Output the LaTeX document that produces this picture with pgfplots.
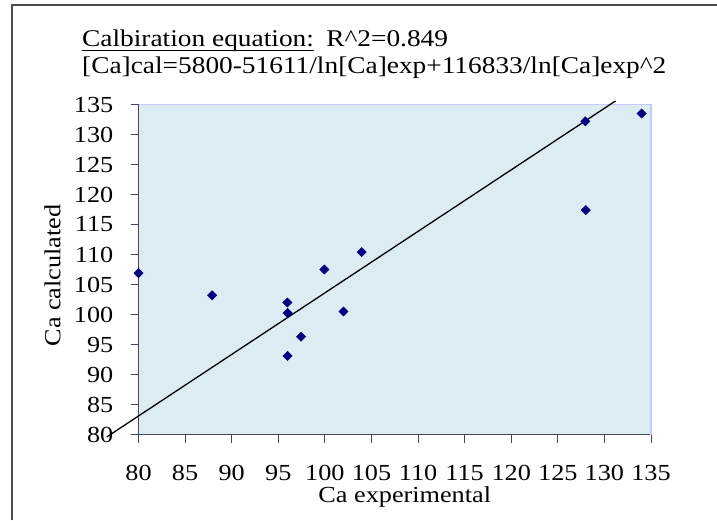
\documentclass[border=0pt]{standalone}
\usepackage{pgfplots}
\pgfplotsset{compat=1.18}
\usepackage{fontspec}
\setmainfont[FakeStretch=1.14]{Liberation Serif}
\definecolor{bgblue}{RGB}{219,237,243}
\definecolor{peri}{RGB}{200,200,255}
\definecolor{navymark}{RGB}{0,0,128}
\definecolor{axgray}{RGB}{70,70,90}
\begin{document}
\begin{tikzpicture}[x=1pt,y=1pt]
\path[use as bounding box] (0,0) rectangle (717,520);
\draw[black!70, line width=1.3pt] (12,0) -- (12,515) -- (717,515);
\node[anchor=base west, inner sep=0pt, font=\fontsize{24}{28}\selectfont] (cal) at (82,473) {Calbiration equation:};
\draw[black, line width=0.9pt] ([yshift=-3pt]cal.base west) -- ([yshift=-3pt]cal.base east);
\node[anchor=base west, inner sep=0pt, font=\fontsize{24}{28}\selectfont] at ([xshift=12pt]cal.base east) {R\textasciicircum 2=0.849};
\node[anchor=base west, inner sep=0pt, font=\fontsize{24}{28}\selectfont] at (82,446) {[Ca]cal=5800-51611/ln[Ca]exp+116833/ln[Ca]exp\textasciicircum 2};
\begin{axis}[
  at={(138.5pt,85.5pt)}, anchor=south west,
  scale only axis, width=512.5pt, height=330pt,
  xmin=80, xmax=135, ymin=80, ymax=135,
  xtick={80,85,...,135}, ytick={80,85,...,135},
  axis lines*=left,
  axis line style={axgray, line width=1pt},
  tick style={axgray, line width=1pt},
  tick align=outside, major tick length=8pt,
  axis background/.style={fill=bgblue},
  clip=false,
  /pgf/number format/assume math mode=true,
  xticklabel style={font=\fontsize{23}{27}\selectfont, anchor=north, inner sep=0pt, yshift=-23pt},
  yticklabel style={font=\fontsize{23}{27}\selectfont, anchor=east, inner sep=0pt, xshift=-17pt},
  xlabel={Ca experimental}, ylabel={Ca calculated},
  label style={font=\fontsize{23}{27}\selectfont},
  xlabel style={at={(axis description cs:0.5,0)}, anchor=base, inner sep=0pt, yshift=-68pt, xshift=10pt},
  ylabel style={at={(axis description cs:0,0.5)}, anchor=center, inner sep=0pt, yshift=86pt, xshift=-6pt},
]
\draw[peri, line width=1.5pt] (rel axis cs:0,1) -- (rel axis cs:1,1) -- (rel axis cs:1,0);
\addplot[only marks, mark=square*, mark size=3.3pt, mark options={rotate=45, fill=navymark, draw=navymark}] coordinates {
(80,106.9) (87.9,103.2) (95.97,102.0) (96,100.25) (96,93.1) (97.44,96.3)
(99.94,107.5) (102.0,100.5) (103.95,110.4) (127.95,132.2) (128,117.4) (134.0,133.5)
};
\addplot[black, line width=1.3pt] coordinates {(76.6,79.6) (131.2,135.6)};
\end{axis}
\end{tikzpicture}
\end{document}
